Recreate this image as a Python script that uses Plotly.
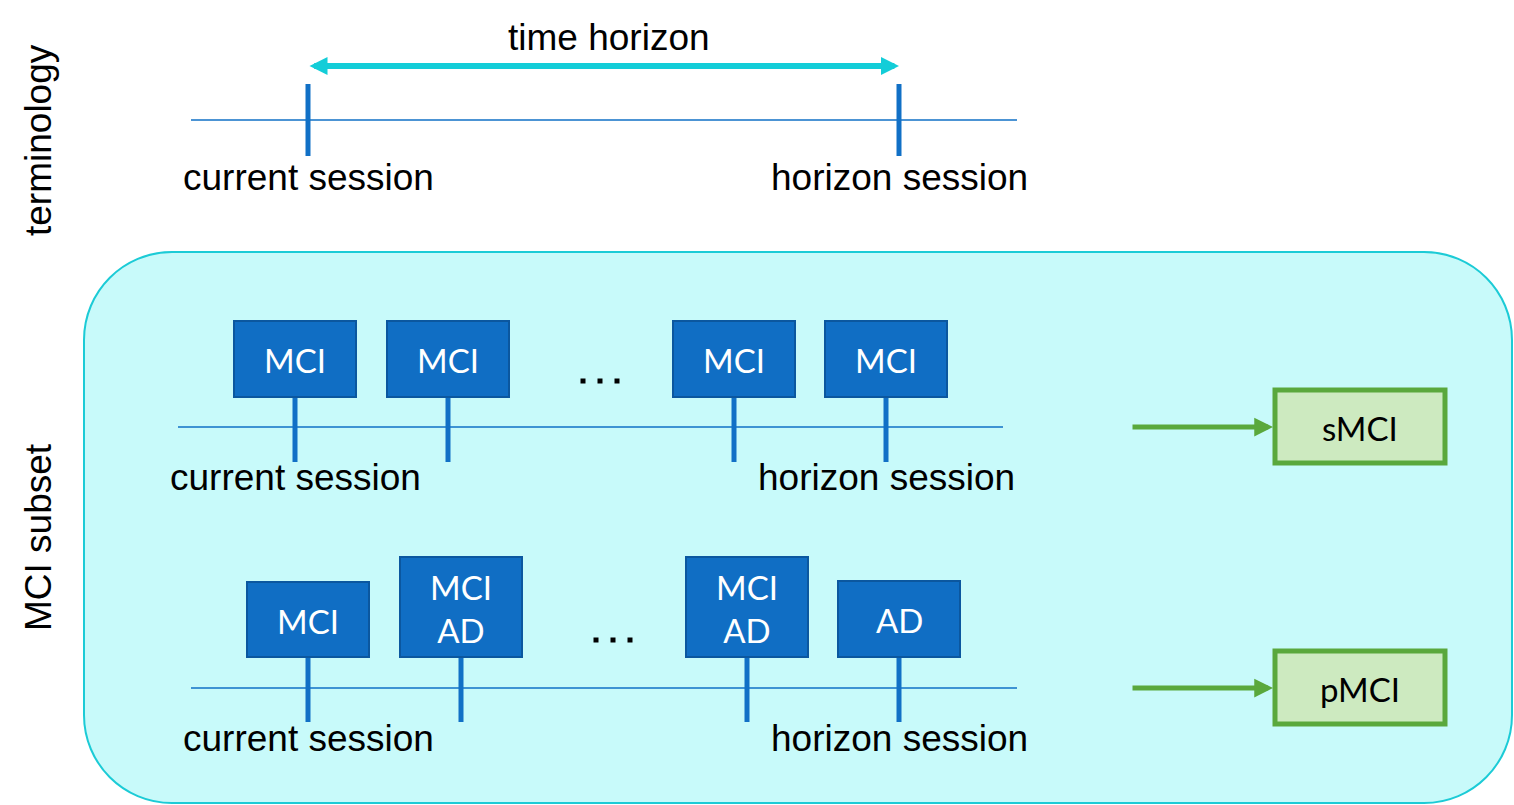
import plotly.graph_objects as go

# labels used in the diagram
side_labels = ["terminology", "MCI subset"]
session_labels = ["current session", "horizon session"]
row1_labels = ["MCI", "MCI", "MCI", "MCI"]
row2_labels = ["MCI", "MCI<br>AD", "MCI<br>AD", "AD"]
outcome_labels = ["sMCI", "pMCI"]
arrow_label = "time horizon"

# session positions on the pixel-like canvas axis
top_sessions_x = [308, 899]
row1_sessions_x = [295, 448, 734, 886]
row2_sessions_x = [308, 461, 747, 899]
row1_box_top = [321, 321, 321, 321]
row2_box_top = [582, 557, 557, 581]
row1_dots_x = [583, 600, 617]
row2_dots_x = [596, 613, 630]

BLUE = "#1170c6"
BOX_EDGE = "#0b579f"
CYAN = "#13cdd8"
GREEN = "#5aa83c"
TXT_FONT = "Liberation Sans, Arial, sans-serif"
BOX_FONT = "Lato, Calibri, sans-serif"

fig = go.Figure()
shapes = []
annotations = []


def line(x0, y0, x1, y1, color, width):
    shapes.append(dict(type="line", x0=x0, y0=y0, x1=x1, y1=y1,
                       line=dict(color=color, width=width), layer="above"))


def text(x, y, s, size=37, color="black", font=TXT_FONT, angle=0):
    annotations.append(dict(x=x, y=y, text=s, showarrow=False, textangle=angle,
                            font=dict(family=font, size=size, color=color),
                            xanchor="center", yanchor="middle"))


# rounded background panel
x0, y0, x1, y1, r = 84, 252, 1512, 803, 88
k = r * 0.4477
path = (f"M{x0 + r},{y0} L{x1 - r},{y0} C{x1 - k},{y0} {x1},{y0 + k} {x1},{y0 + r} "
        f"L{x1},{y1 - r} C{x1},{y1 - k} {x1 - k},{y1} {x1 - r},{y1} "
        f"L{x0 + r},{y1} C{x0 + k},{y1} {x0},{y1 - k} {x0},{y1 - r} "
        f"L{x0},{y0 + r} C{x0},{y0 + k} {x0 + k},{y0} {x0 + r},{y0} Z")
shapes.append(dict(type="path", path=path, fillcolor="#c8fafa",
                   line=dict(color="#1ccbd6", width=2), layer="below"))

# side labels
text(38, 140, side_labels[0], angle=-90)
text(38, 537, side_labels[1], angle=-90)

# terminology timeline
line(191, 120, 1017, 120, BLUE, 1.5)
for sx in top_sessions_x:
    line(sx, 84, sx, 156, BLUE, 5)
text(top_sessions_x[0], 177, session_labels[0])
text(top_sessions_x[1], 177, session_labels[1])
text(609, 37, arrow_label)
annotations.append(dict(x=899, y=66, ax=308, ay=66, xref="x", yref="y",
                        axref="x", ayref="y", text="", showarrow=True,
                        arrowhead=2, startarrowhead=2, arrowside="end+start",
                        arrowsize=0.6, startarrowsize=0.6, arrowwidth=6,
                        arrowcolor=CYAN, standoff=0, startstandoff=0))

# session rows
rows = [
    (row1_sessions_x, row1_labels, row1_box_top, 427, 397, 462, 178, 1003, 477, row1_dots_x, 381),
    (row2_sessions_x, row2_labels, row2_box_top, 688, 657, 722, 191, 1017, 738, row2_dots_x, 640),
]
for (xs, labels, tops, ly, bottom, stem_end, lx0, lx1, label_y, dots_x, dots_y), outcome in zip(rows, outcome_labels):
    line(lx0, ly, lx1, ly, BLUE, 1.5)
    for sx, lab, top in zip(xs, labels, tops):
        line(sx, bottom, sx, stem_end, BLUE, 5)
        shapes.append(dict(type="rect", x0=sx - 61, x1=sx + 61, y0=top, y1=bottom,
                           fillcolor="#106ec4", line=dict(color=BOX_EDGE, width=2),
                           layer="above"))
        text(sx, (top + bottom) / 2 + 1, lab, size=33, color="white", font=BOX_FONT)
    text(xs[0], label_y, session_labels[0])
    text(xs[-1], label_y, session_labels[1])

    # ellipsis dots between sessions
    fig.add_trace(go.Scatter(
        x=dots_x, y=[dots_y] * len(dots_x), mode="markers",
        marker=dict(symbol="square", size=5, color="black"),
        hoverinfo="skip", showlegend=False,
    ))

    # outcome arrow and box
    annotations.append(dict(x=1273, y=ly, ax=1131, ay=ly, xref="x", yref="y",
                            axref="x", ayref="y", text="", showarrow=True,
                            arrowhead=2, arrowsize=0.75, arrowwidth=5,
                            arrowcolor=GREEN, standoff=0))
    shapes.append(dict(type="rect", x0=1275, x1=1445, y0=ly - 37, y1=ly + 36,
                       fillcolor="#cdeac0", line=dict(color=GREEN, width=5),
                       layer="above"))
    text(1360, ly + 1, outcome, size=33, font=BOX_FONT)

fig.update_layout(
    width=1514, height=805,
    margin=dict(l=0, r=0, t=0, b=0),
    paper_bgcolor="white", plot_bgcolor="rgba(0,0,0,0)",
    xaxis=dict(range=[0, 1514], visible=False, fixedrange=True),
    yaxis=dict(range=[805, 0], visible=False, fixedrange=True),
    shapes=shapes, annotations=annotations,
    showlegend=False,
)

# remove the default page margin so the figure sits at the window corner
fig.write_html("out.html", config={"displayModeBar": False},
               post_script="document.body.style.margin='0';document.body.style.overflow='hidden';")
